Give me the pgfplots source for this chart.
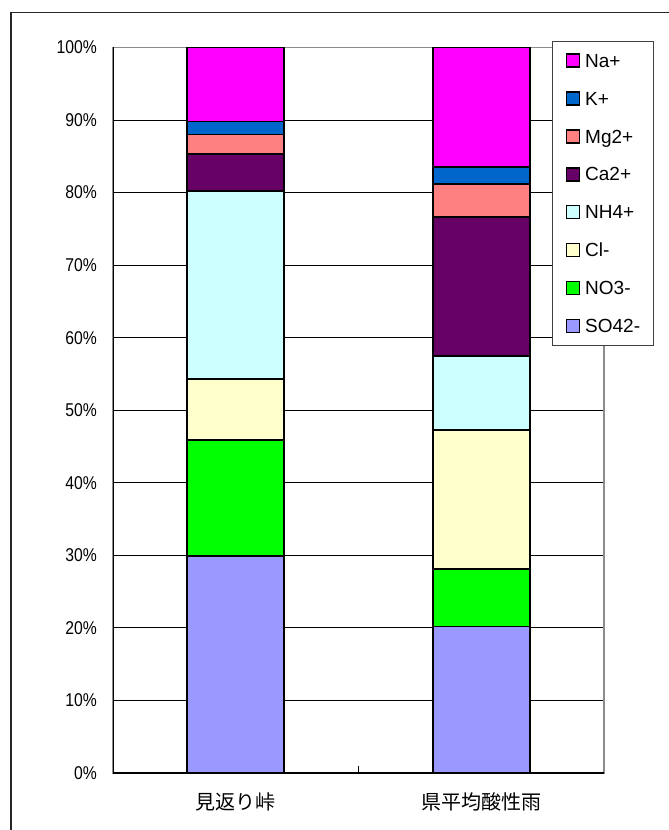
\documentclass[border=0pt]{standalone}
\usepackage{fontspec}
\usepackage{pgfplots}
\usepackage{pgfplotstable}
\pgfplotsset{compat=1.18}
\setmainfont{Liberation Sans}
\newfontfamily\tickfont[FakeStretch=0.85]{Liberation Sans}
\newfontfamily\cjk{Noto Sans CJK JP}
\definecolor{cNa}{HTML}{FF00FF}
\definecolor{cK}{HTML}{0066CC}
\definecolor{cMg}{HTML}{FF8080}
\definecolor{cCa}{HTML}{660066}
\definecolor{cNH}{HTML}{CCFFFF}
\definecolor{cCl}{HTML}{FFFFCC}
\definecolor{cNO}{HTML}{00FF00}
\definecolor{cSO}{HTML}{9999FF}
\pgfplotstableread{
x SO NO Cl NH Ca Mg K Na
0 29.9 16.0 8.4 25.9 5.1 2.7 1.8 10.2
1 20.2 7.9 19.2 10.2 19.1 4.6 2.3 16.5
}\datatable
\begin{document}
\begin{tikzpicture}
\useasboundingbox (0pt,0pt) rectangle (669pt,830pt);
\draw[black!85, line width=1.2pt] (11pt,-20pt) rectangle (700pt,817.3pt);
\begin{axis}[
  at={(113pt,57pt)}, anchor=south west,
  scale only axis, width=491pt, height=725.5pt,
  ybar stacked, bar width=97pt,
  xmin=-0.5, xmax=1.5, ymin=0, ymax=100,
  enlargelimits=false,
  xtick={0,1},
  xticklabels={見返り峠,県平均酸性雨},
  xtick style={draw=none},
  xticklabel style={font=\cjk\fontsize{20}{20}\selectfont, anchor=center, inner sep=0pt, yshift=-29pt},
  ytick={0,10,...,100},
  yticklabels={0\%,10\%,20\%,30\%,40\%,50\%,60\%,70\%,80\%,90\%,100\%},
  yticklabel style={font=\tickfont\fontsize{18.5}{18.5}\selectfont, anchor=east, inner sep=0pt, xshift=-16pt},
  tick align=inside, major tick length=5pt,
  ytick style={black, line width=1pt},
  ymajorgrids, major grid style={black, line width=0.8pt},
  axis line style={draw=black!45, line width=1.5pt},
  barsty/.style={draw=black, line width=1.8pt, fill=#1},
  reverse legend,
  legend cell align=left,
  legend image code/.code={\draw[#1, draw=black, line width=1.6pt] (0pt,-6.5pt) rectangle (13pt,6.5pt);},
  legend style={at={(axis description cs:0.8935,1.0094)}, anchor=north west,
    draw=black!75, line width=0.8pt, fill=white,
    font=\fontsize{19}{19}\selectfont,
    inner xsep=13.5pt, inner ysep=12.2pt,
    row sep=23.3pt, column sep=5pt,
    nodes={inner sep=0pt, text height=13.3pt, text depth=0pt}},
]
\addplot[barsty=cSO] table[x=x,y=SO]{\datatable};
\addplot[barsty=cNO] table[x=x,y=NO]{\datatable};
\addplot[barsty=cCl] table[x=x,y=Cl]{\datatable};
\addplot[barsty=cNH] table[x=x,y=NH]{\datatable};
\addplot[barsty=cCa] table[x=x,y=Ca]{\datatable};
\addplot[barsty=cMg] table[x=x,y=Mg]{\datatable};
\addplot[barsty=cK] table[x=x,y=K]{\datatable};
\addplot[barsty=cNa] table[x=x,y=Na]{\datatable};
\legend{SO42-,NO3-,Cl-,NH4+,Ca2+,Mg2+,K+,Na+}
\draw[black, line width=1.8pt] (rel axis cs:0,1) -- (rel axis cs:0,0) -- (rel axis cs:1,0);
\draw[black, line width=1pt] (axis cs:0.5,0) -- (axis cs:0.5,0.96);
\end{axis}
\end{tikzpicture}
\end{document}
